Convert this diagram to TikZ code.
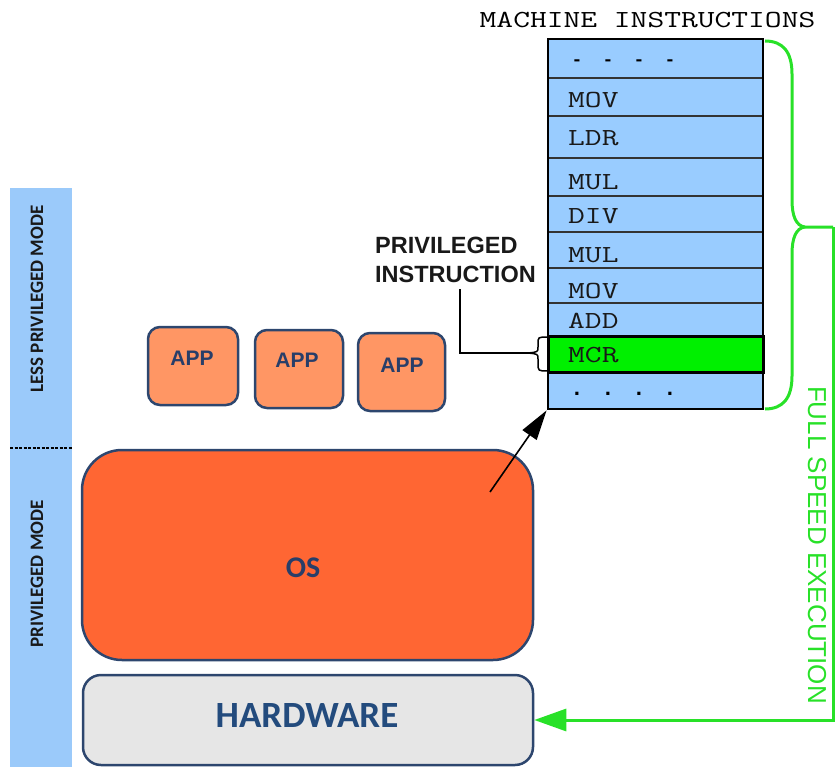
\documentclass[tikz,border=0pt]{standalone}
\usepackage{fontspec}
\setmainfont{Liberation Sans}
\newfontfamily\carl{Carlito}
\newfontfamily\lmono{Liberation Mono}
\usetikzlibrary{arrows.meta}

\definecolor{rowblue}{RGB}{153,204,255}
\definecolor{barblue}{RGB}{155,202,250}
\definecolor{mcrgreen}{RGB}{0,240,0}
\definecolor{brgreen}{RGB}{40,225,40}
\definecolor{appfill}{RGB}{255,150,100}
\definecolor{osfill}{RGB}{255,102,51}
\definecolor{hwfill}{RGB}{230,230,230}
\definecolor{navy}{RGB}{45,70,110}
\definecolor{navytext}{RGB}{40,62,105}
\definecolor{hwtext}{RGB}{35,75,125}

% wide typewriter text for the instruction listing
\newcommand\widetext[2][1.33]{\scalebox{#1}[1]{#2}}

\begin{document}
\begin{tikzpicture}[x=1pt,y=-1pt,
  row/.style={draw=black!80, line width=1.3pt, fill=rowblue,
    minimum width=215pt, inner sep=0pt, outer sep=0pt},
  instr/.style={font=\ttfamily\fontsize{24.5}{24.5}\selectfont,
    anchor=base west, inner sep=0pt, text=black!90},
  gline/.style={draw=brgreen, line width=3pt},
  app/.style={draw=navy, line width=2.5pt, fill=appfill,
    rounded corners=12pt, inner sep=0pt},
  apptext/.style={font=\bfseries\fontsize{21}{21}\selectfont,
    text=navytext, inner sep=0pt},
  modetext/.style={font=\carl\bfseries\fontsize{19}{19}\selectfont,
    text=black!90, rotate=90, inner sep=0pt},
  plab/.style={font=\bfseries\fontsize{23.5}{23.5}\selectfont,
    text=black!90, anchor=base west, inner sep=0pt}]

\useasboundingbox (0,0) rectangle (835,770);

% privilege-mode bar on the left
\node[fill=barblue, minimum width=62pt, minimum height=579pt,
  inner sep=0pt] (bar) at (41,477.5) {};
\coordinate (dl) at (10,448);
\coordinate (dr) at (72,448);
\draw[line width=1.5pt, dash pattern=on 3pt off 1.5pt] (dl) -- (dr);
\node[modetext] (lessmode) at (37,299) {LESS PRIVILEGED MODE};
\node[modetext] (privmode) at (37,574) {PRIVILEGED MODE};

% applications
\node[app, minimum width=90pt, minimum height=78pt] (app1) at (193,366) {};
\node[app, minimum width=88pt, minimum height=78pt] (app2) at (299,369) {};
\node[app, minimum width=87pt, minimum height=78pt] (app3) at (401.5,372) {};
\node[apptext] (app1t) at (192,358) {APP};
\node[apptext] (app2t) at (297,360) {APP};
\node[apptext] (app3t) at (402,365) {APP};

% operating system and hardware
\node[draw=navy, line width=2.5pt, fill=osfill, rounded corners=40pt,
  minimum width=451pt, minimum height=210pt, inner sep=0pt] (os) at (307.5,555) {};
\node[font=\carl\bfseries\fontsize{30}{30}\selectfont, text=navytext,
  inner sep=0pt] (ost) at (303,568) {OS};
\node[draw=navy, line width=2.5pt, fill=hwfill, rounded corners=18pt,
  minimum width=450pt, minimum height=90pt, inner sep=0pt] (hw) at (308,720) {};
\node[font=\carl\bfseries\fontsize{37}{37}\selectfont, text=hwtext,
  inner sep=0pt] (hwt) at (307,715) {HARDWARE};

% machine instruction column
\node[font=\ttfamily\fontsize{24.5}{24.5}\selectfont, anchor=base,
  inner sep=0pt] (mititle) at (647.5,28) {\widetext{MACHINE INSTRUCTIONS}};
\node[row, minimum height=39pt] (r1) at (655.5,58.5) {};
\node[row, minimum height=38pt] (r2) at (655.5,97) {};
\node[row, minimum height=42pt] (r3) at (655.5,137) {};
\node[row, minimum height=38pt] (r4) at (655.5,177) {};
\node[row, minimum height=36pt] (r5) at (655.5,214) {};
\node[row, minimum height=36pt] (r6) at (655.5,250) {};
\node[row, minimum height=35pt] (r7) at (655.5,285.5) {};
\node[row, minimum height=33pt] (r8) at (655.5,319.5) {};
\node[row, minimum height=37pt] (r10) at (655.5,390.5) {};
\node[row, draw=black, line width=3pt, fill=mcrgreen,
  minimum height=36pt] (r9) at (655.5,354) {};
\node[draw=black, line width=2.8pt, minimum width=215pt,
  minimum height=370pt, inner sep=0pt] (col) at (655.5,224) {};

\node[font=\lmono\bfseries\fontsize{18}{18}\selectfont, anchor=base,
  inner sep=0pt] (dtop) at (623.5,66)
  {-\hspace{20.2pt}-\hspace{20.2pt}-\hspace{20.2pt}-};
\node[instr] (i1) at (568,108) {\widetext{MOV}};
\node[instr] (i2) at (568,146) {\widetext{LDR}};
\node[instr] (i3) at (568,190) {\widetext{MUL}};
\node[instr] (i4) at (568,224) {\widetext{DIV}};
\node[instr] (i5) at (568,262) {\widetext{MUL}};
\node[instr] (i6) at (568,298) {\widetext{MOV}};
\node[instr] (i7) at (568,328) {\widetext{ADD}};
\node[instr] (i8) at (568,362) {\widetext{MCR}};
\node[font=\lmono\bfseries\fontsize{22}{22}\selectfont, anchor=base,
  inner sep=0pt] (dbot) at (623.5,395)
  {.\hspace{17.8pt}.\hspace{17.8pt}.\hspace{17.8pt}.};

% call-out for the privileged instruction
\node[plab] (pl1) at (375,253) {PRIVILEGED};
\node[plab] (pl2) at (375,282) {INSTRUCTION};
\coordinate (plfoot) at (460,289);
\coordinate (mcrtip) at (528,353);
\draw[line width=1.5pt] (plfoot) |- (mcrtip);
\draw[line width=1.5pt] (548,337) .. controls (538,337) .. (538,344)
  -- (538,347) .. controls (538,352) .. (mcrtip)
  .. controls (538,354) .. (538,359) -- (538,363)
  .. controls (538,371) .. (548,371);

% OS issues the instruction
\coordinate (osarr) at (490,492);
\draw[line width=1.6pt, -{Triangle[length=30pt,width=17pt]}] (osarr) -- (col.south west);

% full speed execution brace and return path
\coordinate (brtip) at (805,227);
\coordinate (brend) at (833,227);
\draw[gline] (765,41) .. controls (783,41) and (792,52) .. (792,74) -- (792,200)
  .. controls (792,216) and (796,226) .. (brtip) -- (brend);
\draw[gline] (brtip) .. controls (796,228) and (792,238) .. (792,254) -- (792,376)
  .. controls (792,398) and (783,409) .. (765,409);
\draw[gline, -{Triangle[length=32pt,width=22pt]}] (brend) |- (hw.east);
\node[font=\fontsize{26}{26}\selectfont, text=brgreen, rotate=-90,
  inner sep=0pt] (fse) at (817,545) {FULL SPEED EXECUTION};

\end{tikzpicture}
\end{document}
